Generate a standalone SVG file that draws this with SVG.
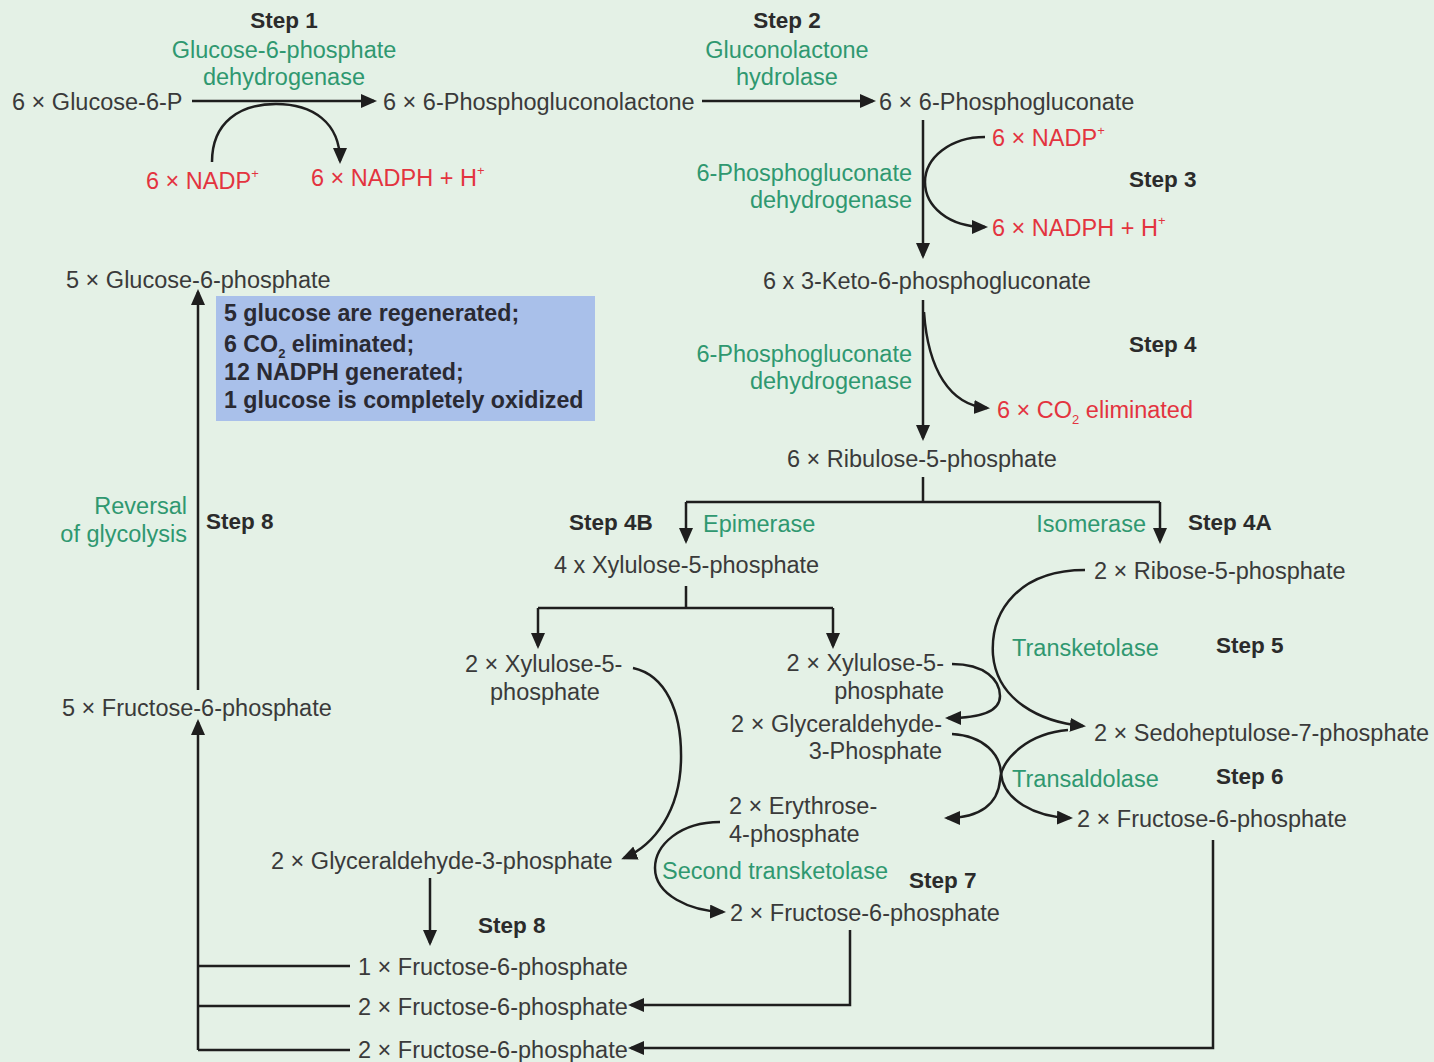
<svg xmlns="http://www.w3.org/2000/svg" width="1434" height="1062" viewBox="0 0 1434 1062">
<defs>
<marker id="ah" markerUnits="userSpaceOnUse" markerWidth="18" markerHeight="16" refX="13" refY="7" orient="auto">
<path d="M0,0 L16,7 L0,14 z" fill="#1e1e1e"/>
</marker>
<style>
text{font-family:"Liberation Sans",Arial,sans-serif;font-size:23.5px;fill:#3a3a3a}
.g{fill:#2f9870}
.r{fill:#e3343f}
.b{font-weight:bold;font-size:22.5px;fill:#2b2b2b}
.bx{font-weight:bold;font-size:23.2px;fill:#2a2a33}
.e{text-anchor:end}
.m{text-anchor:middle}
.sup{font-size:13px}
.ln{fill:none;stroke:#1e1e1e;stroke-width:2.5}
.ar{marker-end:url(#ah)}
</style>
</defs>
<rect width="1434" height="1062" fill="#e4f1e6"/>

<g id="connectors">
<path class="ln ar" d="M192,101 L374,101"/>
<path class="ln ar" d="M212,162 C212,122 240,104 276,104 C312,104 340,122 340,161"/>
<path class="ln ar" d="M702,101 L873,101"/>
<path class="ln ar" d="M923,120 L923,256"/>
<path class="ln ar" d="M985,137 C950,137 925,158 925,182 C925,206 948,227 985,227"/>
<path class="ln ar" d="M923,300 L923,438"/>
<path class="ln ar" d="M924,312 C928,370 950,405 987,408"/>
<path class="ln" d="M923,477 L923,502 M686,502 L1160,502"/>
<path class="ln ar" d="M686,502 L686,541"/>
<path class="ln ar" d="M1160,502 L1160,541"/>
<path class="ln" d="M686,586 L686,608 M538,608 L833,608"/>
<path class="ln ar" d="M538,608 L538,646"/>
<path class="ln ar" d="M833,608 L833,646"/>
<path class="ln ar" d="M1085,570 C1020,570 990,610 993,655 C997,700 1040,722 1083,726"/>
<path class="ln ar" d="M952,664 C985,664 1000,680 1000,696 C1000,712 980,718 948,718"/>
<path class="ln ar" d="M952,734 C985,736 1000,755 1001,773 C1003,800 1035,817 1070,818"/>
<path class="ln ar" d="M1068,730 C1030,733 1002,757 1000,780 C998,804 980,818 947,818"/>
<path class="ln ar" d="M633,668 C665,675 682,710 681,760 C680,810 655,845 624,858"/>
<path class="ln ar" d="M720,822 C680,822 655,845 655,868 C655,895 690,911 723,912"/>
<path class="ln ar" d="M430,878 L430,943"/>
<path class="ln ar" d="M198,1050 L198,722"/>
<path class="ln ar" d="M198,690 L198,292"/>
<path class="ln" d="M198,966 L350,966 M198,1006 L350,1006 M198,1050 L350,1050"/>
<path class="ln ar" d="M850,930 L850,1005 L631,1005"/>
<path class="ln ar" d="M1213,840 L1213,1048 L631,1048"/>
</g>

<g id="step1">
<text class="b m" x="284" y="28">Step 1</text>
<text class="g m" x="284" y="58">Glucose-6-phosphate</text>
<text class="g m" x="284" y="85">dehydrogenase</text>
</g>
<g id="glucose6p"><text x="12" y="110">6 × Glucose-6-P</text></g>
<g id="nadp1"><text class="r" x="146" y="189">6 × NADP<tspan class="sup" dy="-11">+</tspan></text></g>
<g id="nadph1"><text class="r" x="311" y="186">6 × NADPH + H<tspan class="sup" dy="-11">+</tspan></text></g>
<g id="lactone"><text x="383" y="110">6 × 6-Phosphogluconolactone</text></g>
<g id="step2">
<text class="b m" x="787" y="28">Step 2</text>
<text class="g m" x="787" y="58">Gluconolactone</text>
<text class="g m" x="787" y="85">hydrolase</text>
</g>
<g id="phosphogluconate"><text x="879" y="110">6 × 6-Phosphogluconate</text></g>
<g id="step3">
<text class="r" x="992" y="146">6 × NADP<tspan class="sup" dy="-11">+</tspan></text>
<text class="r" x="992" y="236">6 × NADPH + H<tspan class="sup" dy="-11">+</tspan></text>
<text class="b" x="1129" y="187">Step 3</text>
<text class="g e" x="912" y="181">6-Phosphogluconate</text>
<text class="g e" x="912" y="208">dehydrogenase</text>
</g>
<g id="keto"><text x="763" y="289">6 x 3-Keto-6-phosphogluconate</text></g>
<g id="step4">
<text class="b" x="1129" y="352">Step 4</text>
<text class="g e" x="912" y="362">6-Phosphogluconate</text>
<text class="g e" x="912" y="389">dehydrogenase</text>
<text class="r" x="997" y="418">6 × CO<tspan class="sup" dy="6">2</tspan><tspan dy="-6"> eliminated</tspan></text>
</g>
<g id="ribulose"><text x="787" y="467">6 × Ribulose-5-phosphate</text></g>
<g id="step4b">
<text class="b" x="569" y="530">Step 4B</text>
<text class="g" x="703" y="532">Epimerase</text>
</g>
<g id="step4a">
<text class="g e" x="1146" y="532">Isomerase</text>
<text class="b" x="1188" y="530">Step 4A</text>
</g>
<g id="xylulose4"><text x="554" y="573">4 x Xylulose-5-phosphate</text></g>
<g id="ribose"><text x="1094" y="579">2 × Ribose-5-phosphate</text></g>
<g id="xylulose2a">
<text x="465" y="672">2 × Xylulose-5-</text>
<text x="490" y="700">phosphate</text>
</g>
<g id="xylulose2b">
<text class="e" x="944" y="671">2 × Xylulose-5-</text>
<text class="e" x="944" y="699">phosphate</text>
</g>
<g id="glyceraldehyde2b">
<text class="e" x="942" y="732">2 × Glyceraldehyde-</text>
<text class="e" x="942" y="759">3-Phosphate</text>
</g>
<g id="step5">
<text class="g" x="1012" y="656">Transketolase</text>
<text class="b" x="1216" y="653">Step 5</text>
</g>
<g id="sedoheptulose"><text x="1094" y="741">2 × Sedoheptulose-7-phosphate</text></g>
<g id="step6">
<text class="g" x="1012" y="787">Transaldolase</text>
<text class="b" x="1216" y="784">Step 6</text>
</g>
<g id="fructose6"><text x="1077" y="827">2 × Fructose-6-phosphate</text></g>
<g id="erythrose">
<text x="729" y="814">2 × Erythrose-</text>
<text x="729" y="842">4-phosphate</text>
</g>
<g id="step7">
<text class="g" x="662" y="879">Second transketolase</text>
<text class="b" x="909" y="888">Step 7</text>
</g>
<g id="fructose7"><text x="730" y="921">2 × Fructose-6-phosphate</text></g>
<g id="glyceraldehyde2a"><text x="271" y="869">2 × Glyceraldehyde-3-phosphate</text></g>
<g id="step8b"><text class="b" x="478" y="933">Step 8</text></g>
<g id="f1"><text x="358" y="975">1 × Fructose-6-phosphate</text></g>
<g id="f2"><text x="358" y="1015">2 × Fructose-6-phosphate</text></g>
<g id="f3"><text x="358" y="1058">2 × Fructose-6-phosphate</text></g>
<g id="fructose5"><text x="62" y="716">5 × Fructose-6-phosphate</text></g>
<g id="step8a">
<text class="g e" x="187" y="514">Reversal</text>
<text class="g e" x="187" y="542">of glycolysis</text>
<text class="b" x="206" y="529">Step 8</text>
</g>
<g id="glucose5"><text x="66" y="288">5 × Glucose-6-phosphate</text></g>
<g id="summary">
<rect x="216" y="296" width="379" height="125" fill="#a9c0ea"/>
<text class="bx" x="224" y="321">5 glucose are regenerated;</text>
<text class="bx" x="224" y="352">6 CO<tspan class="sup" dy="6">2</tspan><tspan dy="-6"> eliminated;</tspan></text>
<text class="bx" x="224" y="380">12 NADPH generated;</text>
<text class="bx" x="224" y="408">1 glucose is completely oxidized</text>
</g>
</svg>
